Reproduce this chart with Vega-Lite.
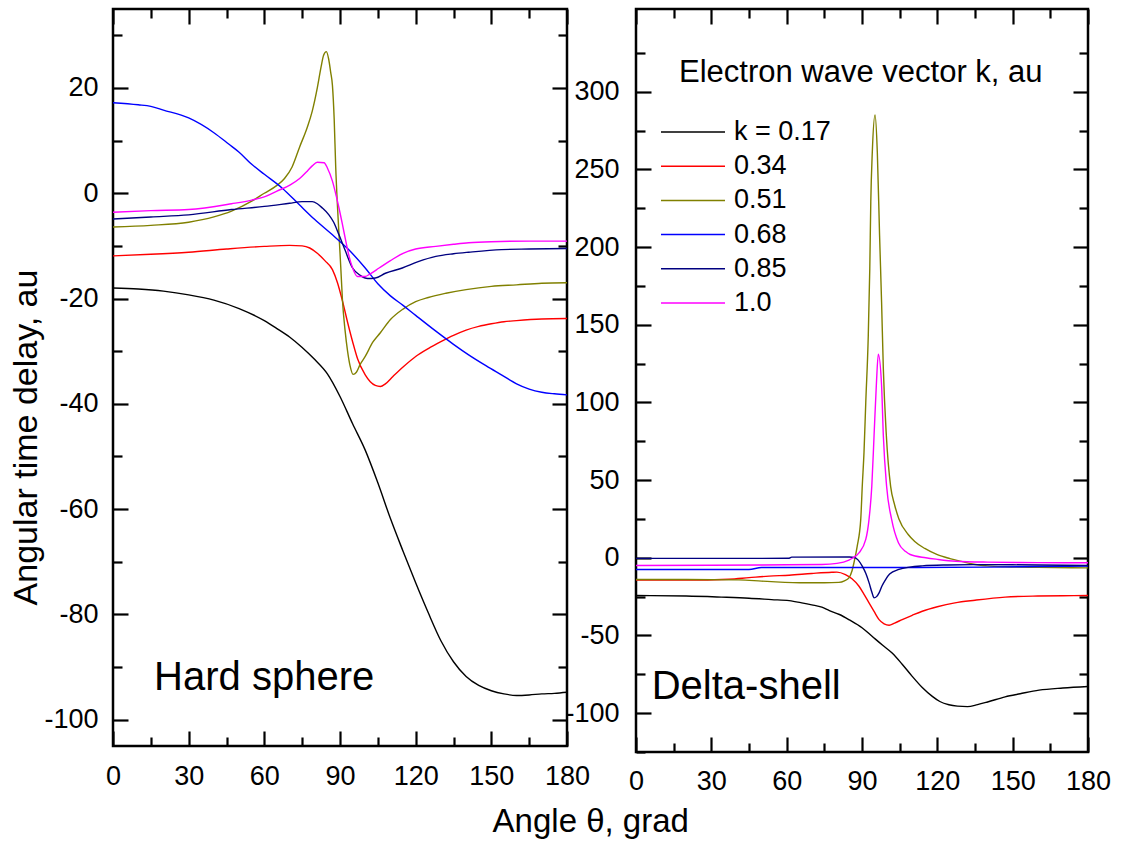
{
  "$schema": "https://vega.github.io/schema/vega-lite/v6.json",
  "background": "white",
  "padding": {"left": 7, "top": 6, "right": 5, "bottom": 5},
  "datasets": {
    "hs": [
      {"k":"k = 0.17","x":0,"y":-18},{"k":"k = 0.17","x":10,"y":-18.2},{"k":"k = 0.17","x":20,"y":-18.6},{"k":"k = 0.17","x":30,"y":-19.3},{"k":"k = 0.17","x":40,"y":-20.3},{"k":"k = 0.17","x":50,"y":-21.9},{"k":"k = 0.17","x":60,"y":-24.2},{"k":"k = 0.17","x":65,"y":-25.7},{"k":"k = 0.17","x":70,"y":-27.3},{"k":"k = 0.17","x":75,"y":-29.3},{"k":"k = 0.17","x":80,"y":-31.6},{"k":"k = 0.17","x":85,"y":-34.3},{"k":"k = 0.17","x":90,"y":-38.6},{"k":"k = 0.17","x":95,"y":-43.8},{"k":"k = 0.17","x":100,"y":-48.8},{"k":"k = 0.17","x":105,"y":-55},{"k":"k = 0.17","x":110,"y":-61.8},{"k":"k = 0.17","x":115,"y":-68},{"k":"k = 0.17","x":120,"y":-74},{"k":"k = 0.17","x":125,"y":-79.7},{"k":"k = 0.17","x":130,"y":-85},{"k":"k = 0.17","x":135,"y":-89},{"k":"k = 0.17","x":140,"y":-91.8},{"k":"k = 0.17","x":145,"y":-93.5},{"k":"k = 0.17","x":150,"y":-94.5},{"k":"k = 0.17","x":155,"y":-95.1},{"k":"k = 0.17","x":160,"y":-95.4},{"k":"k = 0.17","x":165,"y":-95.3},{"k":"k = 0.17","x":170,"y":-95.1},{"k":"k = 0.17","x":175,"y":-95},{"k":"k = 0.17","x":180,"y":-94.8},
      {"k":"0.34","x":0,"y":-11.9},{"k":"0.34","x":15,"y":-11.6},{"k":"0.34","x":30,"y":-11.2},{"k":"0.34","x":45,"y":-10.6},{"k":"0.34","x":60,"y":-10.1},{"k":"0.34","x":70,"y":-9.9},{"k":"0.34","x":75,"y":-10},{"k":"0.34","x":78,"y":-10.4},{"k":"0.34","x":81,"y":-11.4},{"k":"0.34","x":84,"y":-12.8},{"k":"0.34","x":87,"y":-14.5},{"k":"0.34","x":89,"y":-17},{"k":"0.34","x":91,"y":-20.5},{"k":"0.34","x":93,"y":-24.5},{"k":"0.34","x":95,"y":-28.2},{"k":"0.34","x":97,"y":-31.5},{"k":"0.34","x":100,"y":-34.5},{"k":"0.34","x":102,"y":-35.8},{"k":"0.34","x":104,"y":-36.5},{"k":"0.34","x":106,"y":-36.7},{"k":"0.34","x":108,"y":-36.2},{"k":"0.34","x":111,"y":-34.8},{"k":"0.34","x":115,"y":-33},{"k":"0.34","x":120,"y":-31},{"k":"0.34","x":125,"y":-29.5},{"k":"0.34","x":130,"y":-28.2},{"k":"0.34","x":135,"y":-27},{"k":"0.34","x":140,"y":-26},{"k":"0.34","x":145,"y":-25.3},{"k":"0.34","x":150,"y":-24.8},{"k":"0.34","x":155,"y":-24.4},{"k":"0.34","x":160,"y":-24.2},{"k":"0.34","x":170,"y":-23.9},{"k":"0.34","x":180,"y":-23.8},
      {"k":"0.51","x":0,"y":-6.4},{"k":"0.51","x":15,"y":-6.1},{"k":"0.51","x":30,"y":-5.5},{"k":"0.51","x":40,"y":-4.5},{"k":"0.51","x":47,"y":-3.4},{"k":"0.51","x":55,"y":-1.5},{"k":"0.51","x":60,"y":0},{"k":"0.51","x":65,"y":1.5},{"k":"0.51","x":68,"y":2.8},{"k":"0.51","x":71,"y":5},{"k":"0.51","x":74,"y":8.8},{"k":"0.51","x":77,"y":12.5},{"k":"0.51","x":79,"y":15.6},{"k":"0.51","x":81,"y":20},{"k":"0.51","x":82.5,"y":24},{"k":"0.51","x":83.5,"y":26.2},{"k":"0.51","x":84.6,"y":26.9},{"k":"0.51","x":85.5,"y":25.5},{"k":"0.51","x":86.3,"y":23},{"k":"0.51","x":87,"y":20.5},{"k":"0.51","x":87.7,"y":14},{"k":"0.51","x":88.3,"y":5},{"k":"0.51","x":89,"y":-2.5},{"k":"0.51","x":89.6,"y":-7.8},{"k":"0.51","x":90.3,"y":-14},{"k":"0.51","x":91,"y":-20.5},{"k":"0.51","x":92,"y":-26},{"k":"0.51","x":93,"y":-30},{"k":"0.51","x":94,"y":-32.8},{"k":"0.51","x":95.2,"y":-34.4},{"k":"0.51","x":96.5,"y":-34},{"k":"0.51","x":98,"y":-32.5},{"k":"0.51","x":100,"y":-31},{"k":"0.51","x":103,"y":-28.3},{"k":"0.51","x":106,"y":-26.5},{"k":"0.51","x":110,"y":-24},{"k":"0.51","x":115,"y":-22},{"k":"0.51","x":120,"y":-20.6},{"k":"0.51","x":125,"y":-19.8},{"k":"0.51","x":132,"y":-19},{"k":"0.51","x":140,"y":-18.3},{"k":"0.51","x":150,"y":-17.7},{"k":"0.51","x":160,"y":-17.4},{"k":"0.51","x":170,"y":-17.1},{"k":"0.51","x":180,"y":-17},
      {"k":"0.68","x":0,"y":17.2},{"k":"0.68","x":10,"y":16.8},{"k":"0.68","x":15,"y":16.5},{"k":"0.68","x":20,"y":15.8},{"k":"0.68","x":30,"y":14.3},{"k":"0.68","x":40,"y":11.5},{"k":"0.68","x":46,"y":9.3},{"k":"0.68","x":50,"y":7.8},{"k":"0.68","x":55,"y":5.5},{"k":"0.68","x":60,"y":3.6},{"k":"0.68","x":67,"y":1},{"k":"0.68","x":73.7,"y":-2.1},{"k":"0.68","x":80,"y":-5},{"k":"0.68","x":87,"y":-7.9},{"k":"0.68","x":93,"y":-10.5},{"k":"0.68","x":100,"y":-14.2},{"k":"0.68","x":105,"y":-17.2},{"k":"0.68","x":110,"y":-19.5},{"k":"0.68","x":115,"y":-21.3},{"k":"0.68","x":120,"y":-23.2},{"k":"0.68","x":128,"y":-26.2},{"k":"0.68","x":135,"y":-28.7},{"k":"0.68","x":141,"y":-30.7},{"k":"0.68","x":148,"y":-32.8},{"k":"0.68","x":154,"y":-34.5},{"k":"0.68","x":160,"y":-36.2},{"k":"0.68","x":165,"y":-37.2},{"k":"0.68","x":170,"y":-37.8},{"k":"0.68","x":175,"y":-38.1},{"k":"0.68","x":180,"y":-38.3},
      {"k":"0.85","x":0,"y":-4.9},{"k":"0.85","x":15,"y":-4.5},{"k":"0.85","x":30,"y":-4.1},{"k":"0.85","x":47,"y":-3.1},{"k":"0.85","x":60,"y":-2.5},{"k":"0.85","x":70,"y":-1.9},{"k":"0.85","x":75,"y":-1.6},{"k":"0.85","x":79,"y":-1.6},{"k":"0.85","x":81,"y":-2},{"k":"0.85","x":83,"y":-2.8},{"k":"0.85","x":85.6,"y":-4.1},{"k":"0.85","x":87.5,"y":-5.5},{"k":"0.85","x":89.6,"y":-7.9},{"k":"0.85","x":92,"y":-10.8},{"k":"0.85","x":95,"y":-14.2},{"k":"0.85","x":98,"y":-15.6},{"k":"0.85","x":101,"y":-16.2},{"k":"0.85","x":104,"y":-16.1},{"k":"0.85","x":108,"y":-15.2},{"k":"0.85","x":114.7,"y":-14.2},{"k":"0.85","x":121,"y":-13},{"k":"0.85","x":128,"y":-12},{"k":"0.85","x":135,"y":-11.5},{"k":"0.85","x":141,"y":-11.2},{"k":"0.85","x":154,"y":-10.7},{"k":"0.85","x":165,"y":-10.6},{"k":"0.85","x":180,"y":-10.5},
      {"k":"1.0","x":0,"y":-3.6},{"k":"1.0","x":15,"y":-3.3},{"k":"1.0","x":30,"y":-3.1},{"k":"1.0","x":47,"y":-2},{"k":"1.0","x":55,"y":-1.3},{"k":"1.0","x":60.5,"y":-0.6},{"k":"1.0","x":65,"y":0.4},{"k":"1.0","x":70.3,"y":1.6},{"k":"1.0","x":74,"y":2.8},{"k":"1.0","x":77,"y":4.2},{"k":"1.0","x":79,"y":5.2},{"k":"1.0","x":81,"y":5.9},{"k":"1.0","x":83.7,"y":5.8},{"k":"1.0","x":85,"y":4.8},{"k":"1.0","x":87,"y":2.3},{"k":"1.0","x":88.5,"y":-0.5},{"k":"1.0","x":89.6,"y":-2.8},{"k":"1.0","x":91,"y":-6},{"k":"1.0","x":92.3,"y":-9.1},{"k":"1.0","x":93.5,"y":-11.8},{"k":"1.0","x":95,"y":-14.2},{"k":"1.0","x":96.9,"y":-15.8},{"k":"1.0","x":100,"y":-15.8},{"k":"1.0","x":102,"y":-15.3},{"k":"1.0","x":105.5,"y":-14.2},{"k":"1.0","x":110,"y":-12.8},{"k":"1.0","x":115,"y":-11.4},{"k":"1.0","x":120,"y":-10.6},{"k":"1.0","x":128,"y":-10.1},{"k":"1.0","x":135,"y":-9.7},{"k":"1.0","x":141,"y":-9.4},{"k":"1.0","x":150,"y":-9.2},{"k":"1.0","x":165,"y":-9.1},{"k":"1.0","x":180,"y":-9.1}
    ],
    "ds": [
      {"k":"k = 0.17","x":0,"y":-24.3},{"k":"k = 0.17","x":20,"y":-24.6},{"k":"k = 0.17","x":34,"y":-25.3},{"k":"k = 0.17","x":45,"y":-26},{"k":"k = 0.17","x":54,"y":-26.9},{"k":"k = 0.17","x":61,"y":-27.6},{"k":"k = 0.17","x":66,"y":-29},{"k":"k = 0.17","x":70,"y":-30.3},{"k":"k = 0.17","x":74,"y":-31.8},{"k":"k = 0.17","x":77,"y":-34},{"k":"k = 0.17","x":81,"y":-36.5},{"k":"k = 0.17","x":85,"y":-40},{"k":"k = 0.17","x":90,"y":-45},{"k":"k = 0.17","x":94,"y":-50.5},{"k":"k = 0.17","x":98,"y":-56},{"k":"k = 0.17","x":102,"y":-61.3},{"k":"k = 0.17","x":106,"y":-68.5},{"k":"k = 0.17","x":110,"y":-76.3},{"k":"k = 0.17","x":114,"y":-83.5},{"k":"k = 0.17","x":118,"y":-89.2},{"k":"k = 0.17","x":121,"y":-92.5},{"k":"k = 0.17","x":124.6,"y":-94.6},{"k":"k = 0.17","x":128,"y":-95.5},{"k":"k = 0.17","x":132,"y":-95.8},{"k":"k = 0.17","x":136,"y":-94.5},{"k":"k = 0.17","x":140,"y":-92.8},{"k":"k = 0.17","x":147,"y":-89.5},{"k":"k = 0.17","x":153,"y":-87.5},{"k":"k = 0.17","x":160.5,"y":-85.2},{"k":"k = 0.17","x":170,"y":-83.8},{"k":"k = 0.17","x":180,"y":-82.8},
      {"k":"0.34","x":0,"y":-14.4},{"k":"0.34","x":20,"y":-14.4},{"k":"0.34","x":37,"y":-13.8},{"k":"0.34","x":45,"y":-12.8},{"k":"0.34","x":53,"y":-11.8},{"k":"0.34","x":61,"y":-11.2},{"k":"0.34","x":70,"y":-10.1},{"k":"0.34","x":78,"y":-9.3},{"k":"0.34","x":80,"y":-9.2},{"k":"0.34","x":83.4,"y":-10.8},{"k":"0.34","x":86,"y":-13.5},{"k":"0.34","x":88.8,"y":-18.3},{"k":"0.34","x":91,"y":-24},{"k":"0.34","x":92.8,"y":-29},{"k":"0.34","x":94.8,"y":-34.5},{"k":"0.34","x":96.8,"y":-39.8},{"k":"0.34","x":98.8,"y":-42.5},{"k":"0.34","x":100.8,"y":-43.4},{"k":"0.34","x":103,"y":-42},{"k":"0.34","x":106,"y":-39.8},{"k":"0.34","x":110,"y":-37},{"k":"0.34","x":114,"y":-34.4},{"k":"0.34","x":120,"y":-31.5},{"k":"0.34","x":127,"y":-29},{"k":"0.34","x":135,"y":-27.3},{"k":"0.34","x":147,"y":-25.3},{"k":"0.34","x":160,"y":-24.6},{"k":"0.34","x":170,"y":-24.4},{"k":"0.34","x":180,"y":-24.3},
      {"k":"0.51","x":0,"y":-14},{"k":"0.51","x":20,"y":-14},{"k":"0.51","x":41,"y":-14.2},{"k":"0.51","x":50,"y":-15},{"k":"0.51","x":55.6,"y":-15.5},{"k":"0.51","x":67.6,"y":-16.1},{"k":"0.51","x":75,"y":-16.1},{"k":"0.51","x":80.8,"y":-15.8},{"k":"0.51","x":83,"y":-14.8},{"k":"0.51","x":84.8,"y":-12.9},{"k":"0.51","x":86,"y":-8.5},{"k":"0.51","x":86.8,"y":-3.2},{"k":"0.51","x":88.1,"y":7.5},{"k":"0.51","x":89.5,"y":24.7},{"k":"0.51","x":90.1,"y":46},{"k":"0.51","x":90.8,"y":68},{"k":"0.51","x":91.5,"y":100},{"k":"0.51","x":92.5,"y":143},{"k":"0.51","x":93.1,"y":186},{"k":"0.51","x":93.5,"y":229},{"k":"0.51","x":94.1,"y":261},{"k":"0.51","x":95.2,"y":285},{"k":"0.51","x":96.1,"y":261},{"k":"0.51","x":97,"y":207.5},{"k":"0.51","x":97.8,"y":164.5},{"k":"0.51","x":98.5,"y":121.5},{"k":"0.51","x":99.7,"y":78.5},{"k":"0.51","x":101.4,"y":46},{"k":"0.51","x":103,"y":34},{"k":"0.51","x":104.7,"y":25},{"k":"0.51","x":108.4,"y":15},{"k":"0.51","x":111,"y":10.5},{"k":"0.51","x":115,"y":6},{"k":"0.51","x":120,"y":2},{"k":"0.51","x":125,"y":-0.5},{"k":"0.51","x":130,"y":-2.5},{"k":"0.51","x":134,"y":-4},{"k":"0.51","x":140,"y":-5.2},{"k":"0.51","x":147,"y":-5.8},{"k":"0.51","x":160,"y":-6.2},{"k":"0.51","x":180,"y":-6.5},
      {"k":"0.68","x":0,"y":-7.5},{"k":"0.68","x":45,"y":-7.5},{"k":"0.68","x":50,"y":-6.3},{"k":"0.68","x":100,"y":-6.3},{"k":"0.68","x":140,"y":-6},{"k":"0.68","x":160,"y":-5.6},{"k":"0.68","x":180,"y":-5.3},
      {"k":"0.85","x":0,"y":-0.4},{"k":"0.85","x":30,"y":-0.4},{"k":"0.85","x":61,"y":-0.3},{"k":"0.85","x":62,"y":0.4},{"k":"0.85","x":85,"y":0.5},{"k":"0.85","x":87,"y":0.2},{"k":"0.85","x":88.5,"y":-1.5},{"k":"0.85","x":90.1,"y":-5.4},{"k":"0.85","x":91.5,"y":-10},{"k":"0.85","x":92.8,"y":-16},{"k":"0.85","x":94,"y":-22.5},{"k":"0.85","x":94.8,"y":-25.8},{"k":"0.85","x":95.8,"y":-25},{"k":"0.85","x":96.8,"y":-22.6},{"k":"0.85","x":98,"y":-18},{"k":"0.85","x":99.4,"y":-14},{"k":"0.85","x":101,"y":-10.5},{"k":"0.85","x":104.7,"y":-7.5},{"k":"0.85","x":109,"y":-6},{"k":"0.85","x":114,"y":-5.2},{"k":"0.85","x":124,"y":-4.6},{"k":"0.85","x":134,"y":-4.4},{"k":"0.85","x":150,"y":-4.5},{"k":"0.85","x":180,"y":-5},
      {"k":"1.0","x":0,"y":-5},{"k":"1.0","x":30,"y":-4.8},{"k":"1.0","x":60,"y":-4.5},{"k":"1.0","x":74,"y":-4.3},{"k":"1.0","x":80,"y":-3.6},{"k":"1.0","x":84.8,"y":-1.5},{"k":"1.0","x":86.5,"y":0},{"k":"1.0","x":88.8,"y":3.2},{"k":"1.0","x":91.5,"y":11.8},{"k":"1.0","x":92.8,"y":24.7},{"k":"1.0","x":93.9,"y":46},{"k":"1.0","x":94.8,"y":78.5},{"k":"1.0","x":95.7,"y":110.8},{"k":"1.0","x":96.5,"y":131},{"k":"1.0","x":97.8,"y":110.8},{"k":"1.0","x":98.5,"y":78.5},{"k":"1.0","x":99.8,"y":46},{"k":"1.0","x":101.8,"y":24.7},{"k":"1.0","x":104.5,"y":9.7},{"k":"1.0","x":107.4,"y":4},{"k":"1.0","x":109.2,"y":2.1},{"k":"1.0","x":115.4,"y":0},{"k":"1.0","x":120,"y":-1},{"k":"1.0","x":127.3,"y":-2.2},{"k":"1.0","x":140,"y":-2.8},{"k":"1.0","x":160,"y":-3.1},{"k":"1.0","x":180,"y":-3.2}
    ],
    "lab_hs": [{"x": 16.3, "y": -94.4, "t": "Hard sphere"}],
    "lab_ds": [{"x": 6.25, "y": -91, "t": "Delta-shell"}]
  },
  "title": {"text": "Angle θ, grad", "orient": "bottom", "anchor": "middle", "fontSize": 33, "font": "Liberation Sans", "fontWeight": "normal", "color": "black", "offset": 11, "dx": 31},
  "columns": 2,
  "spacing": -28,
  "resolve": {"scale": {"x": "independent", "y": "independent", "color": "independent"}, "legend": {"color": "independent"}},
  "concat": [
    {
      "width": 454,
      "height": 737,
      "resolve": {"axis": {"x": "independent", "y": "independent"}},
      "layer": [
        {
          "data": {"name": "hs"},
          "mark": {"type": "line", "strokeWidth": 1.4, "interpolate": "monotone"},
          "encoding": {
            "x": {"field": "x", "type": "quantitative", "scale": {"domain": [0, 180], "nice": false, "zero": false},
                  "axis": {"orient": "bottom", "values": [0, 30, 60, 90, 120, 150, 180], "tickSize": -15, "labelPadding": 32, "title": null}},
            "y": {"field": "y", "type": "quantitative", "scale": {"domain": [-105, 35], "nice": false, "zero": false},
                  "axis": {"orient": "left", "values": [-100, -80, -60, -40, -20, 0, 20], "tickSize": -15, "labelPadding": 30, "labelExpr": "replace(datum.label, '\u2212', '-')", "title": "Angular time delay, au", "titleX": -70, "titleY": 428}},
            "color": {"field": "k", "type": "nominal",
                      "scale": {"domain": ["k = 0.17", "0.34", "0.51", "0.68", "0.85", "1.0"], "range": ["#000000", "#ff0000", "#808000", "#0000ff", "#000080", "#ff00ff"]},
                      "legend": null}
          }
        },
        {
          "data": {"name": "hs"},
          "mark": {"type": "point", "opacity": 0},
          "encoding": {
            "x": {"field": "x", "type": "quantitative", "axis": {"orient": "bottom", "values": [15, 45, 75, 105, 135, 165], "tickSize": -9, "labels": false, "title": null}},
            "y": {"field": "y", "type": "quantitative", "axis": {"orient": "left", "values": [-90, -70, -50, -30, -10, 10, 30], "tickSize": -9, "labels": false, "title": null}}
          }
        },
        {
          "data": {"name": "hs"},
          "mark": {"type": "point", "opacity": 0},
          "encoding": {
            "x": {"field": "x", "type": "quantitative", "axis": {"orient": "top", "values": [0, 30, 60, 90, 120, 150, 180], "tickSize": -15, "labels": false, "title": null}},
            "y": {"field": "y", "type": "quantitative", "axis": {"orient": "right", "values": [-100, -80, -60, -40, -20, 0, 20], "tickSize": -15, "labels": false, "title": null}}
          }
        },
        {
          "data": {"name": "hs"},
          "mark": {"type": "point", "opacity": 0},
          "encoding": {
            "x": {"field": "x", "type": "quantitative", "axis": {"orient": "top", "values": [15, 45, 75, 105, 135, 165], "tickSize": -9, "labels": false, "title": null}},
            "y": {"field": "y", "type": "quantitative", "axis": {"orient": "right", "values": [-90, -70, -50, -30, -10, 10, 30], "tickSize": -9, "labels": false, "title": null}}
          }
        },
        {
          "mark": {"type": "rule", "strokeWidth": 3, "color": "black"},
          "encoding": {"y": {"datum": 0, "type": "quantitative", "axis": null}}
        },
        {
          "data": {"name": "lab_hs"},
          "mark": {"type": "text", "fontSize": 40, "font": "Liberation Sans", "align": "left", "baseline": "alphabetic", "color": "black"},
          "encoding": {
            "x": {"field": "x", "type": "quantitative", "axis": null},
            "y": {"field": "y", "type": "quantitative", "axis": null},
            "text": {"field": "t"}
          }
        }
      ]
    },
    {
      "width": 452,
      "height": 743,
      "resolve": {"axis": {"x": "independent", "y": "independent"}},
      "layer": [
        {
          "data": {"name": "ds"},
          "mark": {"type": "line", "strokeWidth": 1.4, "interpolate": "monotone"},
          "encoding": {
            "x": {"field": "x", "type": "quantitative", "scale": {"domain": [0, 180], "nice": false, "zero": false},
                  "axis": {"orient": "bottom", "values": [0, 30, 60, 90, 120, 150, 180], "tickSize": -15, "labelPadding": 31, "title": null}},
            "y": {"field": "y", "type": "quantitative", "scale": {"domain": [-125, 353.2], "nice": false, "zero": false},
                  "axis": {"orient": "left", "values": [-100, -50, 0, 50, 100, 150, 200, 250, 300], "tickSize": -15, "labelPadding": 32, "labelExpr": "replace(datum.label, '\u2212', '-')", "title": null}},
            "color": {"field": "k", "type": "nominal",
                      "scale": {"domain": ["k = 0.17", "0.34", "0.51", "0.68", "0.85", "1.0"], "range": ["#000000", "#ff0000", "#808000", "#0000ff", "#000080", "#ff00ff"]},
                      "legend": {"title": "Electron wave vector k, au", "orient": "none", "legendX": 43, "legendY": 49,
                                 "titleFontSize": 31, "titleFont": "Liberation Sans", "titleFontWeight": "normal", "titleColor": "black", "titleLimit": 1000, "titlePadding": 22,
                                 "labelFontSize": 27, "labelFont": "Liberation Sans", "labelColor": "black",
                                 "symbolType": "M-1.6,0L1.6,0", "symbolSize": 1600, "symbolStrokeWidth": 1.5, "symbolOffset": -7, "labelOffset": 20, "rowPadding": 0.2}}
          }
        },
        {
          "data": {"name": "ds"},
          "mark": {"type": "point", "opacity": 0},
          "encoding": {
            "x": {"field": "x", "type": "quantitative", "axis": {"orient": "bottom", "values": [15, 45, 75, 105, 135, 165], "tickSize": -9, "labels": false, "title": null}},
            "y": {"field": "y", "type": "quantitative", "axis": {"orient": "left", "values": [-125, -75, -25, 25, 75, 125, 175, 225, 275, 325], "tickSize": -9, "labels": false, "title": null}}
          }
        },
        {
          "data": {"name": "ds"},
          "mark": {"type": "point", "opacity": 0},
          "encoding": {
            "x": {"field": "x", "type": "quantitative", "axis": {"orient": "top", "values": [0, 30, 60, 90, 120, 150, 180], "tickSize": -15, "labels": false, "title": null}},
            "y": {"field": "y", "type": "quantitative", "axis": {"orient": "right", "values": [-100, -50, 0, 50, 100, 150, 200, 250, 300], "tickSize": -15, "labels": false, "title": null}}
          }
        },
        {
          "data": {"name": "ds"},
          "mark": {"type": "point", "opacity": 0},
          "encoding": {
            "x": {"field": "x", "type": "quantitative", "axis": {"orient": "top", "values": [15, 45, 75, 105, 135, 165], "tickSize": -9, "labels": false, "title": null}},
            "y": {"field": "y", "type": "quantitative", "axis": {"orient": "right", "values": [-75, -25, 25, 75, 125, 175, 225, 275, 325], "tickSize": -9, "labels": false, "title": null}}
          }
        },
        {
          "data": {"name": "lab_ds"},
          "mark": {"type": "text", "fontSize": 40, "font": "Liberation Sans", "align": "left", "baseline": "alphabetic", "color": "black"},
          "encoding": {
            "x": {"field": "x", "type": "quantitative", "axis": null},
            "y": {"field": "y", "type": "quantitative", "axis": null},
            "text": {"field": "t"}
          }
        }
      ]
    }
  ],
  "config": {
    "font": "Liberation Sans",
    "view": {"stroke": "black", "strokeWidth": 2.5},
    "axis": {"domain": false, "grid": false, "tickColor": "black", "tickWidth": 2.2, "labelColor": "black", "labelFont": "Liberation Sans", "labelFontSize": 27, "titleFont": "Liberation Sans", "titleFontSize": 34, "titleFontWeight": "normal", "titleColor": "black", "labelFlush": false, "labelOverlap": false}
  }
}
